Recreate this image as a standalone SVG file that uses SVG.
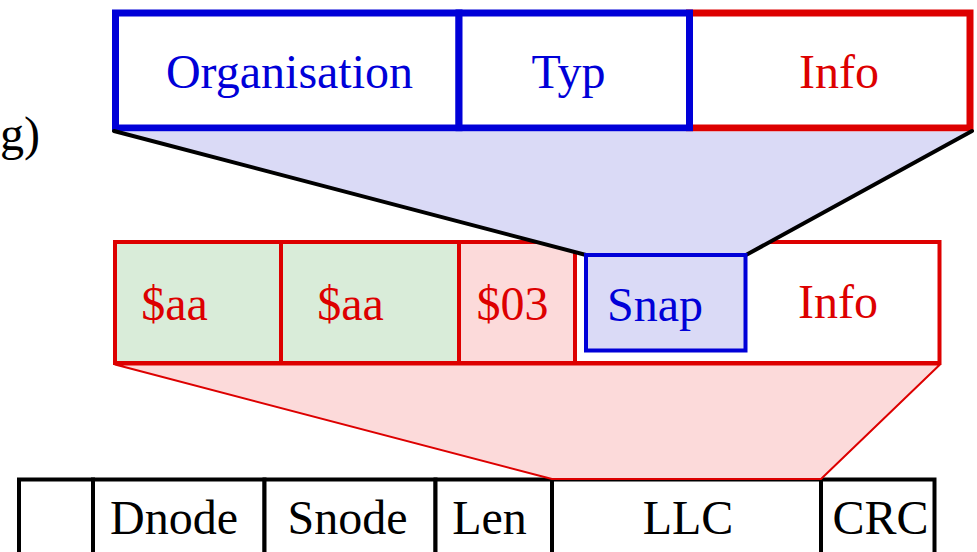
<svg xmlns="http://www.w3.org/2000/svg" width="977" height="552" viewBox="0 0 977 552">
<style>
text{font-family:"Liberation Serif","Times New Roman",serif;font-size:48px;text-anchor:middle}
.blue{fill:#0000d8}
.red{fill:#dd0000}
.black{fill:#000}
.bbox{fill:#fff;stroke:#0000d8;stroke-width:7}
.rbox{fill:#fff;stroke:#dd0000;stroke-width:7}
.mcell{stroke:#dd0000;stroke-width:4}
.lcell{fill:#fff;stroke:#000;stroke-width:4}
.edge{stroke:#000;stroke-width:4;fill:none;stroke-linecap:round}
</style>
<text id="label-g" class="black" x="0" y="150" style="text-anchor:start">g)</text>
<g id="top-row">
  <g id="top-info"><rect class="rbox" x="689.5" y="13" width="280.5" height="115"/><text class="red" x="839" y="88">Info</text></g>
  <g id="top-organisation"><rect class="bbox" x="115.5" y="13" width="343.5" height="115"/><text class="blue" x="289.5" y="88">Organisation</text></g>
  <g id="top-typ"><rect class="bbox" x="459" y="13" width="230.5" height="115"/><text class="blue" x="568.5" y="88">Typ</text></g>
</g>
<g id="middle-row">
  <g id="mid-aa1"><rect class="mcell" x="115" y="242" width="166" height="121" fill="#d9ecd9"/><text class="red" x="174.5" y="320">$aa</text></g>
  <g id="mid-aa2"><rect class="mcell" x="281" y="242" width="178" height="121" fill="#d9ecd9"/><text class="red" x="350.5" y="320">$aa</text></g>
  <g id="mid-03"><rect class="mcell" x="459" y="242" width="116" height="121" fill="#fcdada"/><text class="red" x="512.5" y="320">$03</text></g>
  <g id="mid-info"><rect class="mcell" x="575" y="242" width="364.5" height="121" fill="#fff"/><text class="red" x="838" y="318">Info</text></g>
</g>
<g id="bottom-row">
  <g id="bot-empty"><rect class="lcell" x="19" y="479.5" width="74" height="120"/></g>
  <g id="bot-dnode"><rect class="lcell" x="93" y="479.5" width="171.5" height="120"/><text class="black" x="174" y="534">Dnode</text></g>
  <g id="bot-snode"><rect class="lcell" x="264.5" y="479.5" width="171" height="120"/><text class="black" x="347.5" y="534">Snode</text></g>
  <g id="bot-len"><rect class="lcell" x="435.5" y="479.5" width="116.5" height="120"/><text class="black" x="489.5" y="534">Len</text></g>
  <g id="bot-llc"><rect class="lcell" x="552" y="479.5" width="269" height="120"/><text class="black" x="688" y="534">LLC</text></g>
  <g id="bot-crc"><rect class="lcell" x="821" y="479.5" width="113.5" height="120"/><text class="black" x="880.5" y="534">CRC</text></g>
</g>
<g id="connectors">
  <polygon points="115,131.5 970,131.5 746,255 586,255" fill="#dadaf6" stroke="none"/>
  <line class="edge" x1="114" y1="131" x2="586" y2="255"/>
  <line class="edge" x1="972" y1="131" x2="746" y2="255"/>
  <polygon points="115,364.5 940,364.5 821,479 552,479" fill="#fcdada" stroke="#dd0000" stroke-width="2" stroke-linejoin="round"/>
</g>
<g id="mid-snap"><rect x="586" y="255" width="159.5" height="95.5" fill="#dadaf6" stroke="#0000d8" stroke-width="4"/><text class="blue" x="655" y="321">Snap</text></g>
</svg>
